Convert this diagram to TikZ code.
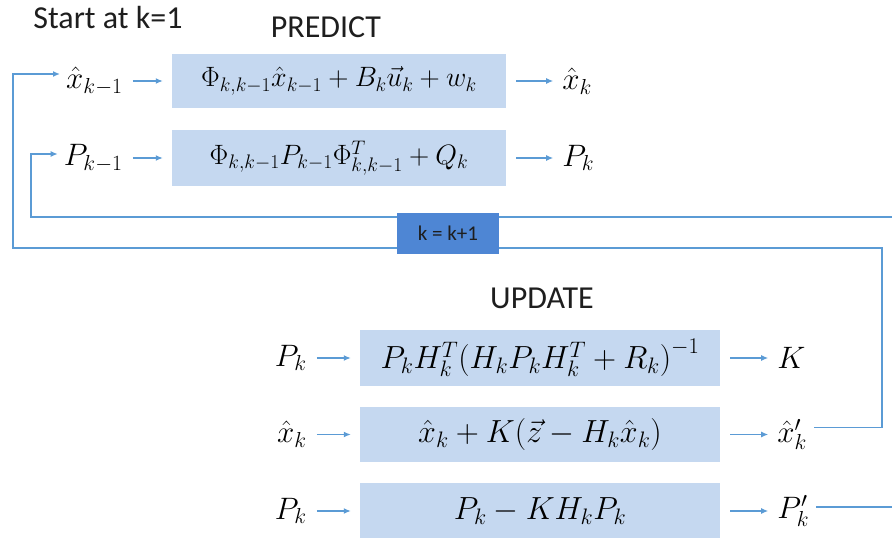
\RequirePackage{fix-cm}
\documentclass[tikz,border=0pt]{standalone}
\usepackage{fontspec}
\setmainfont{Carlito}
\usetikzlibrary{arrows.meta,positioning}
\definecolor{boxblue}{RGB}{197,216,240}
\definecolor{counterblue}{RGB}{78,134,212}
\definecolor{lineblue}{RGB}{91,155,213}
\definecolor{textdark}{RGB}{30,30,30}
\tikzset{
    formulabox/.style={rectangle,fill=boxblue,inner sep=0pt,minimum width=334pt,minimum height=55pt,font=\fontsize{28}{32}\selectfont},
    varlabel/.style={inner sep=0pt,font=\fontsize{31}{35}\selectfont},
    titletext/.style={inner sep=0pt,text=textdark,font=\fontsize{32}{36}\selectfont},
    counterbox/.style={rectangle,fill=counterblue,minimum width=102pt,minimum height=41pt,text=textdark,font=\fontsize{21}{24}\selectfont},
    flowarrow/.style={-{Latex[length=7pt,width=6pt]},lineblue,line width=1.3pt,shorten <=10pt,shorten >=9pt},
    loopline/.style={lineblue,line width=1.5pt},
    looparrow/.style={-{Latex[length=7pt,width=6pt]},lineblue,line width=1.5pt,shorten >=6pt}
}
\begin{document}
\begin{tikzpicture}[x=1pt,y=-1pt]
    \useasboundingbox (0,0) rectangle (892,538);
    % titles
    \node[titletext] (start) at (108,18) {Start at k=1};
    \node[titletext] (predict) at (326,27) {PREDICT};
    \node[titletext] (update) at (542,298) {UPDATE};
    % predict step
    \node[formulabox,minimum height=54pt] (pred1) at (339,81) {$\Phi_{k,k-1}\hat{x}_{k-1}+B_k\vec{u}_k+w_k$};
    \node[formulabox,minimum height=56pt] (pred2) at (339,158) {$\Phi_{k,k-1}P_{k-1}\Phi^T_{k,k-1}+Q_k$};
    \node[varlabel,left=49pt of pred1] (xprev) {$\hat{x}_{k-1}$};
    \node[varlabel,left=49pt of pred2] (pprev) {$P_{k-1}$};
    \node[varlabel,right=56pt of pred1] (xpred) {$\hat{x}_k$};
    \node[varlabel,right=56pt of pred2] (ppred) {$P_k$};
    % update step
    \node[formulabox,minimum width=360pt,minimum height=56pt,font=\fontsize{32}{36}\selectfont] (gain) at (540,358) {$P_kH^T_k\Bigl(H_kP_kH^T_k+R_k\Bigr)^{-1}$};
    \node[formulabox,minimum width=360pt,font=\fontsize{32}{36}\selectfont] (upd2) at (540,434.5) {$\hat{x}_k+K(\vec{z}-H_k\hat{x}_k)$};
    \node[formulabox,minimum width=360pt,minimum height=56pt,font=\fontsize{32}{36}\selectfont] (upd3) at (540,511) {$P_k-KH_kP_k$};
    \node[varlabel,left=53pt of gain] (pin1) {$P_k$};
    \node[varlabel,left=53pt of upd2] (xin) {$\hat{x}_k$};
    \node[varlabel,left=53pt of upd3] (pin2) {$P_k$};
    \node[varlabel,right=57pt of gain] (gainout) {$K$};
    \node[varlabel,right=57pt of upd2] (xupd) {$\hat{x}'_k$};
    \node[varlabel,right=57pt of upd3] (pupd) {$P'_k$};
    \draw[flowarrow] (xprev) -- (pred1);
    \draw[flowarrow] (pprev) -- (pred2);
    \draw[flowarrow] (pred1) -- (xpred);
    \draw[flowarrow] (pred2) -- (ppred);
    \draw[flowarrow] (pin1) -- (gain);
    \draw[flowarrow] (xin) -- (upd2);
    \draw[flowarrow] (pin2) -- (upd3);
    \draw[flowarrow] (gain) -- (gainout);
    \draw[flowarrow] (upd2) -- (xupd);
    \draw[flowarrow] (upd3) -- (pupd);
    % feedback to the next step
    \coordinate (xturn) at (882,248);
    \coordinate (xleft) at (13,248);
    \coordinate (pedge) at (892,217);
    \coordinate (pleft) at (31,217);
    \draw[looparrow,shorten <=7pt] ([yshift=7pt]xupd.east) -| (xturn) -- (xleft) |- ([yshift=7pt]xprev.west);
    \draw[loopline,shorten <=7pt] ([yshift=4pt]pupd.east) -- ([yshift=4pt]pupd.east -| pedge);
    \draw[looparrow] (pedge) -- (pleft) |- ([yshift=4pt]pprev.west);
    \node[counterbox] (incr) at (448,233) {k = k+1};
\end{tikzpicture}
\end{document}
